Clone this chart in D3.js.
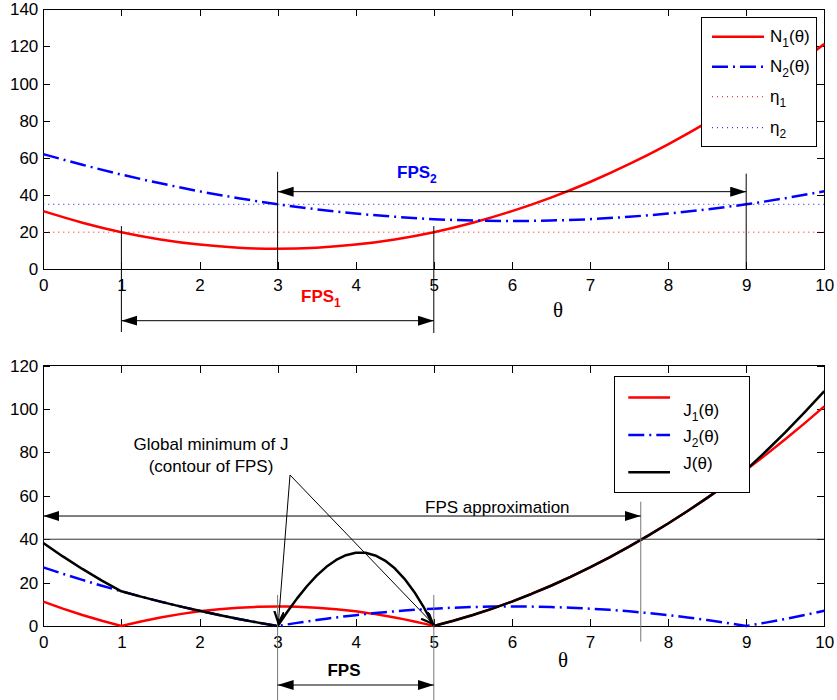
<!DOCTYPE html>
<meta charset="utf-8">
<style>
body { margin: 0; background: #fff; }
svg text { font-family: "Liberation Sans", Arial, sans-serif; font-size: 17px; fill: #000; }
.axis path { display: none; }
.axis line { stroke: #000; shape-rendering: crispEdges; }
.axis text { font-family: "Liberation Sans", Arial, sans-serif; font-size: 17px; }
.box { fill: none; stroke: #000; stroke-width: 1; shape-rendering: crispEdges; }
.legend rect { fill: #fff; stroke: #000; stroke-width: 1; shape-rendering: crispEdges; }
.theta { font-family: "Liberation Serif", "DejaVu Serif", serif !important; font-size: 21px !important; }
</style>
<body>
<script src="https://cdnjs.cloudflare.com/ajax/libs/d3/7.8.5/d3.min.js"></script>
<script>

// theta grid (top: step .5, bottom: step .25, finer inside the FPS)
var thetaTop = [0,0.5,1,1.5,2,2.5,3,3.5,4,4.5,5,5.5,6,6.5,7,7.5,8,8.5,9,9.5,10];
var N1 = [31.3,25.1,20,16.1,13.3,11.6,11,11.6,13.3,16.1,20,25.1,31.3,38.6,47,56.6,67.3,79.1,92,106.1,121.3];
var N2 = [62,56.3,51,46.3,42,38.3,35,32.3,30,28.3,27,26.3,26,26.3,27,28.3,30,32.3,35,38.3,42];
var eta1 = 20, eta2 = 35;

var thetaBot = [0,0.25,0.5,0.75,1,1.25,1.5,1.75,2,2.25,2.5,2.75,
                3,3.125,3.25,3.375,3.5,3.625,3.75,3.875,4,4.125,4.25,4.375,4.5,4.625,4.75,4.875,
                5,5.25,5.5,5.75,6,6.25,6.5,6.75,7,7.25,7.5,7.75,8,8.25,8.5,8.75,9,9.25,9.5,9.75,10];
var J1 = [11.25,8.02,5.06,2.39,0,2.11,3.94,5.48,6.75,7.73,8.44,8.86,
          9,8.97,8.86,8.68,8.44,8.12,7.73,7.28,6.75,6.15,5.48,4.75,3.94,3.06,2.11,1.09,
          0,2.39,5.06,8.02,11.25,14.77,18.56,22.64,27,31.64,36.56,41.77,47.25,53.02,59.06,65.39,72,78.89,86.06,93.52,101.25];
var J2 = [27,24.06,21.25,18.56,16,13.56,11.25,9.06,7,5.06,3.25,1.56,
          0,0.73,1.44,2.11,2.75,3.36,3.94,4.48,5,5.48,5.94,6.36,6.75,7.11,7.44,7.73,
          8,8.44,8.75,8.94,9,8.94,8.75,8.44,8,7.44,6.75,5.94,5,3.94,2.75,1.44,0,1.56,3.25,5.06,7];
var J  = [38.25,32.08,26.31,20.95,16,13.56,11.25,9.06,7,5.06,3.25,1.56,
          0,6.58,12.74,18.32,23.2,27.28,30.44,32.63,33.75,33.74,32.53,30.18,26.58,21.75,15.69,8.43,
          0,2.39,5.06,8.02,11.25,14.77,18.56,22.64,27,31.64,36.56,41.77,47.25,53.02,59.06,65.39,72,80.45,89.31,98.58,108.25];

var xTicks = [0,1,2,3,4,5,6,7,8,9,10];
var yTicksTop = [0,20,40,60,80,100,120,140];
var yTicksBot = [0,20,40,60,80,100,120];

var W = 837, H = 700;
var left = 43.3, right = 824.3;
var dashDot = '16,5,2,5';

var svg = d3.select('body').append('svg')
    .attr('width', W).attr('height', H);

var defs = svg.append('defs');
defs.append('marker').attr('id', 'tri')
    .attr('markerUnits', 'userSpaceOnUse')
    .attr('markerWidth', 17).attr('markerHeight', 11)
    .attr('refX', 16).attr('refY', 5)
    .attr('orient', 'auto-start-reverse')
  .append('path').attr('d', 'M0,0L16,5L0,10Z').attr('fill', '#000');
defs.append('marker').attr('id', 'vee')
    .attr('markerUnits', 'userSpaceOnUse')
    .attr('markerWidth', 14).attr('markerHeight', 12)
    .attr('refX', 12).attr('refY', 5)
    .attr('orient', 'auto')
  .append('path').attr('d', 'M0,0L12,5L0,10').attr('fill', 'none')
    .attr('stroke', '#000').attr('stroke-width', 2.2);

var x = d3.scaleLinear().domain([0, 10]).range([left, right]);

function frame(g, y, yTicks, t, b) {
  g.append('g').attr('class', 'axis').attr('transform', 'translate(0,' + b + ')')
    .call(d3.axisBottom(x).tickValues(xTicks).tickSizeInner(-7).tickSizeOuter(0).tickPadding(10));
  g.append('g').attr('class', 'axis').attr('transform', 'translate(0,' + t + ')')
    .call(d3.axisTop(x).tickValues(xTicks).tickSizeInner(-7).tickSizeOuter(0).tickFormat(''));
  g.append('g').attr('class', 'axis').attr('transform', 'translate(' + left + ',0)')
    .call(d3.axisLeft(y).tickValues(yTicks).tickSizeInner(-7).tickSizeOuter(0).tickPadding(5));
  g.append('g').attr('class', 'axis').attr('transform', 'translate(' + right + ',0)')
    .call(d3.axisRight(y).tickValues(yTicks).tickSizeInner(-7).tickSizeOuter(0).tickFormat(''));
  g.append('rect').attr('class', 'box')
    .attr('x', left).attr('y', t).attr('width', right - left).attr('height', b - t);
}

function seg(g, x1, y1, x2, y2, col, marker, w) {
  var l = g.append('line').attr('x1', x1).attr('y1', y1).attr('x2', x2).attr('y2', y2)
    .attr('stroke', col || '#000').attr('stroke-width', w || 1);
  if (marker) l.attr('marker-start', 'url(#tri)').attr('marker-end', 'url(#tri)');
  return l;
}

function sub(t, main, s, rest) {
  t.append('tspan').text(main);
  t.append('tspan').attr('dy', 5).style('font-size', '12px').text(s);
  if (rest) t.append('tspan').attr('dy', -5).text(rest);
}

// ---------------- top plot ----------------
var yT = d3.scaleLinear().domain([0, 140]).range([269.3, 9.3]);
var gTop = svg.append('g');
frame(gTop, yT, yTicksTop, 9.3, 269.3);

var lineT = d3.line().x(function(d){ return x(d[0]); }).y(function(d){ return yT(d[1]); })
    .curve(d3.curveMonotoneX);

gTop.append('line').attr('x1', x(0)).attr('x2', x(10)).attr('y1', yT(eta1)).attr('y2', yT(eta1))
  .attr('stroke', '#ff0000').attr('stroke-dasharray', '1,4');
gTop.append('line').attr('x1', x(0)).attr('x2', x(10)).attr('y1', yT(eta2)).attr('y2', yT(eta2))
  .attr('stroke', '#0000ff').attr('stroke-dasharray', '1,4');

gTop.append('path').datum(d3.zip(thetaTop, N1)).attr('d', lineT)
  .attr('fill', 'none').attr('stroke', '#ff0000').attr('stroke-width', 2.5);
gTop.append('path').datum(d3.zip(thetaTop, N2)).attr('d', lineT)
  .attr('fill', 'none').attr('stroke', '#0000ff').attr('stroke-width', 2.5)
  .attr('stroke-dasharray', dashDot);

// FPS annotations
seg(gTop, x(1), yT(23.3), x(1), 332);
seg(gTop, x(5), yT(23.3), x(5), 333);
seg(gTop, x(3), yT(52.5), x(3), yT(0));
seg(gTop, x(9), yT(51.5), x(9), yT(0));
seg(gTop, x(3), yT(41.8), x(9), yT(41.8), '#000', true);
seg(gTop, x(1), 320.7, x(5), 320.7, '#000', true);

var f2 = gTop.append('text').attr('x', 397).attr('y', 178)
  .style('fill', '#0000ff').style('font-weight', 'bold');
sub(f2, 'FPS', '2');
var f1 = gTop.append('text').attr('x', 301).attr('y', 302)
  .style('fill', '#ff0000').style('font-weight', 'bold');
sub(f1, 'FPS', '1');

gTop.append('text').attr('class', 'theta').attr('x', 558).attr('y', 317)
  .attr('text-anchor', 'middle').text('θ');

// legend top
var lgT = gTop.append('g').attr('class', 'legend');
lgT.append('rect').attr('x', 701.7).attr('y', 17.7).attr('width', 115).attr('height', 128.5);
var itemsT = [
  {y: 36.7, c: '#ff0000', d: null, w: 2.5, m: 'N', s: '1', r: '(θ)'},
  {y: 66.7, c: '#0000ff', d: dashDot, w: 2.5, m: 'N', s: '2', r: '(θ)'},
  {y: 96.7, c: '#ff0000', d: '1,4', w: 1, m: 'η', s: '1', r: ''},
  {y: 127.7, c: '#0000ff', d: '1,4', w: 1, m: 'η', s: '2', r: ''}
];
itemsT.forEach(function(it) {
  lgT.append('line').attr('x1', 712).attr('x2', 764).attr('y1', it.y).attr('y2', it.y)
    .attr('stroke', it.c).attr('stroke-width', it.w).attr('stroke-dasharray', it.d);
  var t = lgT.append('text').attr('x', 770).attr('y', it.y + 5);
  sub(t, it.m, it.s, it.r);
});

// ---------------- bottom plot ----------------
var yB = d3.scaleLinear().domain([0, 120]).range([626, 365.7]);
var gBot = svg.append('g');
frame(gBot, yB, yTicksBot, 365.7, 626);

var lineB = d3.line().x(function(d){ return x(d[0]); }).y(function(d){ return yB(d[1]); });

gBot.append('path').datum(d3.zip(thetaBot, J1)).attr('d', lineB)
  .attr('fill', 'none').attr('stroke', '#ff0000').attr('stroke-width', 2.5);
gBot.append('path').datum(d3.zip(thetaBot, J2)).attr('d', lineB)
  .attr('fill', 'none').attr('stroke', '#0000ff').attr('stroke-width', 2.5)
  .attr('stroke-dasharray', dashDot);
gBot.append('path').datum(d3.zip(thetaBot, J)).attr('d', lineB)
  .attr('fill', 'none').attr('stroke', '#000').attr('stroke-width', 2.5)
  .attr('stroke-linejoin', 'round');

// level 40 and FPS approximation
seg(gBot, x(0), yB(40), x(10), yB(40), '#333');
seg(gBot, x(7.65), yB(57.3), x(7.65), 641.7, '#777');
seg(gBot, x(0), yB(50.7), x(7.65), yB(50.7), '#000', true);
gBot.append('text').attr('x', 425).attr('y', 513).text('FPS approximation');

// FPS
seg(gBot, x(3), yB(14.3), x(3), 700, '#777');
seg(gBot, x(5), yB(14.3), x(5), 700, '#777');
seg(gBot, x(3), 685, x(5), 685, '#000', true);
gBot.append('text').attr('x', 344).attr('y', 676).attr('text-anchor', 'middle')
  .style('font-weight', 'bold').text('FPS');

// global minimum
gBot.append('text').attr('x', 211).attr('y', 450).attr('text-anchor', 'middle').text('Global minimum of J');
gBot.append('text').attr('x', 211).attr('y', 471.5).attr('text-anchor', 'middle').text('(contour of FPS)');
gBot.append('line').attr('x1', 290).attr('y1', 475).attr('x2', x(3.01)).attr('y2', yB(1.3))
  .attr('stroke', '#000').attr('stroke-width', 1).attr('marker-end', 'url(#vee)');
gBot.append('line').attr('x1', 290).attr('y1', 475).attr('x2', x(4.99)).attr('y2', yB(1))
  .attr('stroke', '#000').attr('stroke-width', 1).attr('marker-end', 'url(#vee)');

gBot.append('text').attr('class', 'theta').attr('x', 563).attr('y', 667)
  .attr('text-anchor', 'middle').text('θ');

// legend bottom
var lgB = gBot.append('g').attr('class', 'legend');
lgB.append('rect').attr('x', 614.3).attr('y', 376.7).attr('width', 135).attr('height', 116);
var itemsB = [
  {ly: 397.5, ty: 416, c: '#ff0000', d: null, m: 'J', s: '1'},
  {ly: 435, ty: 441.5, c: '#0000ff', d: dashDot, m: 'J', s: '2'},
  {ly: 472.3, ty: 469, c: '#000', d: null, m: 'J', s: ''}
];
itemsB.forEach(function(it) {
  lgB.append('line').attr('x1', 628.3).attr('x2', 670).attr('y1', it.ly).attr('y2', it.ly)
    .attr('stroke', it.c).attr('stroke-width', 2.5).attr('stroke-dasharray', it.d);
  var t = lgB.append('text').attr('x', 683.3).attr('y', it.ty);
  if (it.s) sub(t, it.m, it.s, '(θ)'); else t.text('J(θ)');
});

</script>
</body>
